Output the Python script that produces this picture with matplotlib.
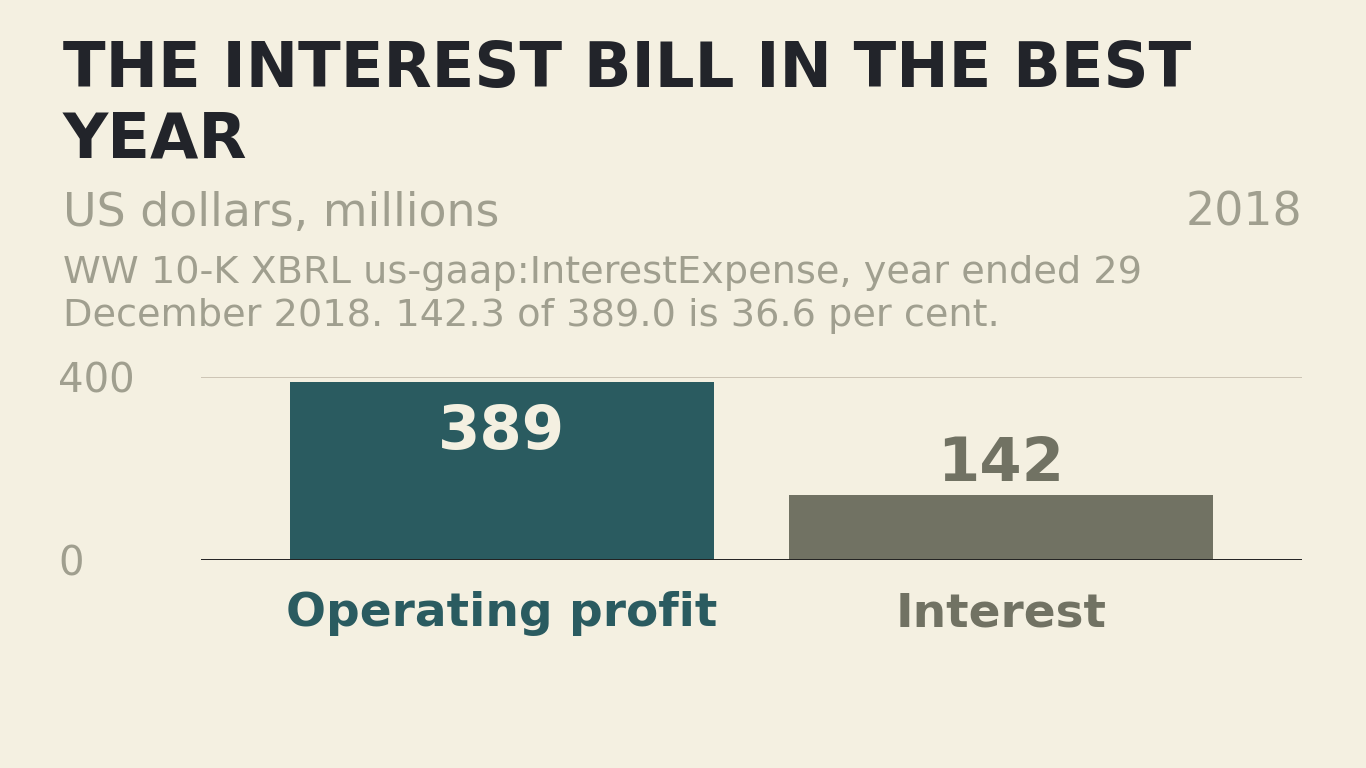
import matplotlib.pyplot as plt

# values in US$ millions, year ended 29 Dec 2018
categories = ['Operating profit', 'Interest']
values = [389.0, 142.3]
value_labels = ['389', '142']
bar_colors = ['#2a5b60', '#717263']
yticks = [0, 400]

bg = '#f4f0e1'
grey_txt = '#a09f8f'

plt.rcParams['font.family'] = ['DejaVu Sans']

fig = plt.figure(figsize=(13.66, 7.68), dpi=100, facecolor=bg)
ax = fig.add_axes([201/1366, 1 - 560/768, 1101/1366, 183/768])
ax.set_facecolor(bg)

x = list(range(len(categories)))
bars = ax.bar(x, values, width=0.85, color=bar_colors, zorder=2)

ax.set_xlim(-0.603, 1.603)
ax.set_ylim(0, 400)

# grid and baseline
ax.set_yticks(yticks)
ax.yaxis.grid(True, color='#c9c1b1', linewidth=1.3, zorder=0)
ax.axhline(0, color='#222222', linewidth=1.4, zorder=3)
for s in ax.spines.values():
    s.set_visible(False)
ax.tick_params(axis='y', length=0, pad=103, labelsize=29, labelcolor=grey_txt)
for lab in ax.get_yticklabels():
    lab.set_ha('left')

ax.set_xticks(x)
ax.set_xticklabels(categories, fontsize=33.8, fontweight='bold')
ax.tick_params(axis='x', length=0, pad=22.5)
for lab, c in zip(ax.get_xticklabels(), bar_colors):
    lab.set_color(c)

# value labels: inside if tall enough, above otherwise
for xi, v, t, c in zip(x, values, value_labels, bar_colors):
    if v > 250:
        ax.annotate(t, (xi, v), xytext=(0, -15), textcoords='offset points',
                    ha='center', va='top', fontsize=43.8, fontweight='bold',
                    color=bg, zorder=4)
    else:
        ax.annotate(t, (xi, v), xytext=(0, 0.5), textcoords='offset points',
                    ha='center', va='bottom', fontsize=43.8, fontweight='bold',
                    color=c, zorder=4)

fig.text(63/1366, 1 - 40/768, 'THE INTEREST BILL IN THE BEST\nYEAR',
         fontsize=45, fontweight='bold', color='#22242a', va='top', ha='left',
         linespacing=1.22)
fig.text(63/1366, 1 - 226/768, 'US dollars, millions', fontsize=33,
         color=grey_txt, ha='left', va='baseline')
fig.text(1302/1366, 1 - 226/768, '2018', fontsize=33,
         color=grey_txt, ha='right', va='baseline')
fig.text(63/1366, 1 - 255/768,
         'WW 10-K XBRL us-gaap:InterestExpense, year ended 29\n'
         'December 2018. 142.3 of 389.0 is 36.6 per cent.',
         fontsize=27.5, color=grey_txt, ha='left', va='top', linespacing=1.25)

fig.savefig('out.png', dpi=100, facecolor=bg)
